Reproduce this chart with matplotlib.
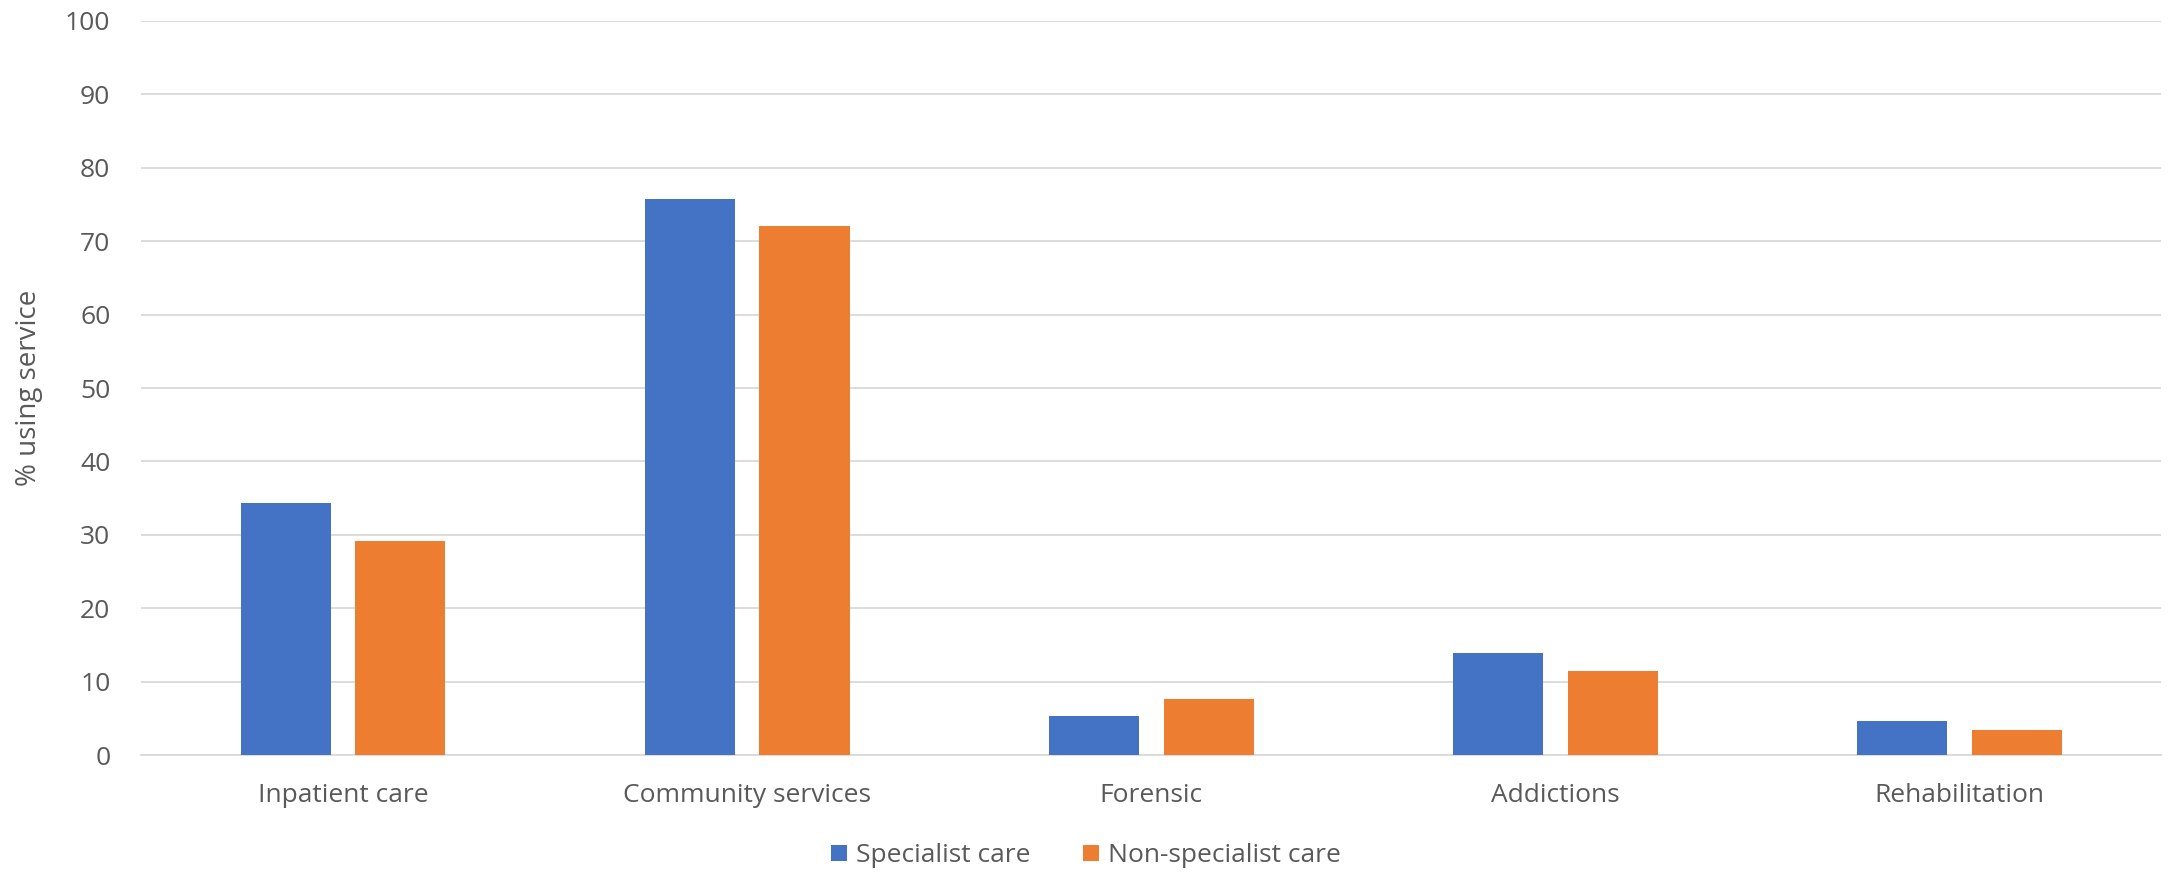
import numpy as np
import matplotlib.pyplot as plt

plt.rcParams["font.family"] = ["Open Sans", "DejaVu Sans"]

# data
categories = ["Inpatient care", "Community services", "Forensic", "Addictions", "Rehabilitation"]
specialist = [34.3, 75.7, 5.3, 13.9, 4.7]
non_specialist = [29.2, 72.1, 7.7, 11.5, 3.4]

blue = "#4472C4"
orange = "#ED7D31"
text_col = "#595959"
grid_col = "#D9D9D9"

fig = plt.figure(figsize=(21.68, 8.75), dpi=100)
ax = fig.add_axes([0.065, 0.137, 0.932, 0.839])

x = np.arange(len(categories))
w = 0.223
off = 0.142
ax.bar(x - off, specialist, w, color=blue, label="Specialist care", zorder=3)
ax.bar(x + off, non_specialist, w, color=orange, label="Non-specialist care", zorder=3)

ax.set_xlim(-0.5, len(categories) - 0.5)
ax.set_ylim(0, 100)
ax.set_yticks(np.arange(0, 101, 10))
ax.set_xticks(x)
ax.set_xticklabels(categories)
ax.yaxis.grid(True, color=grid_col, linewidth=1.3, zorder=0)
ax.tick_params(axis="both", length=0, labelsize=19, colors=text_col)
ax.tick_params(axis="x", pad=20)
ax.tick_params(axis="y", pad=22)
for s in ["top", "right", "left"]:
    ax.spines[s].set_visible(False)
ax.spines["bottom"].set_color(grid_col)
ax.spines["bottom"].set_linewidth(1.3)

ax.set_ylabel("% using service", fontsize=20, color=text_col, labelpad=16)

leg = fig.legend(loc="center", bbox_to_anchor=(0.501, 0.022), ncol=2, frameon=False,
                 fontsize=19, handlelength=0.6, handleheight=0.6, columnspacing=2.0,
                 handletextpad=0.35)
for t in leg.get_texts():
    t.set_color(text_col)

fig.savefig("out.png", dpi=100)
